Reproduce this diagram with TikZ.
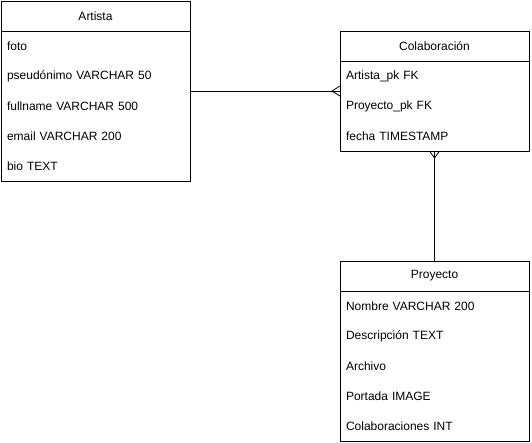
\documentclass[tikz,border=0pt]{standalone}
\usepackage{fontspec}
\setmainfont{Liberation Sans}
\usetikzlibrary{positioning}
\tikzstyle{tabhead}=[rectangle, align=center, draw=black, line width=0.8pt, minimum width=189pt, minimum height=30pt, inner sep=0pt, outer sep=0pt, font=\dtab]
\tikzstyle{tabrow}=[rectangle, align=left, text width=177pt, minimum width=189pt, minimum height=30pt, inner xsep=6pt, inner ysep=0pt, outer sep=0pt, font=\dtab]
\tikzstyle{cornice}=[draw=black, line width=0.8pt]
\tikzstyle{linea}=[draw=black, line width=0.8pt]
\newcommand{\dtab}{\fontsize{12}{14}\selectfont}

\begin{document}
\begin{tikzpicture}
    \useasboundingbox (0,0) rectangle (532pt,-442pt);

    \node [tabhead, anchor = north west] (artista) at (1pt,-1pt) {Artista};
    \node [tabrow, below = 0pt of artista] (foto) {foto};
    \node [tabrow, below = 0pt of foto] (pseudo) {pseudónimo VARCHAR 50};
    \node [tabrow, below = 0pt of pseudo] (fullname) {fullname VARCHAR 500};
    \node [tabrow, below = 0pt of fullname] (email) {email VARCHAR 200};
    \node [tabrow, below = 0pt of email] (bio) {bio TEXT};
    \draw [cornice] (artista.north west) rectangle (bio.south east);

    \node [tabhead, right = 150pt of artista, yshift = -30pt] (colab) {Colaboración};
    \node [tabrow, below = 0pt of colab] (artpk) {Artista\_pk FK};
    \node [tabrow, below = 0pt of artpk] (propk) {Proyecto\_pk FK};
    \node [tabrow, below = 0pt of propk] (fecha) {fecha TIMESTAMP};
    \draw [cornice] (colab.north west) rectangle (fecha.south east);

    \node [tabhead, below = 110pt of fecha] (proyecto) {Proyecto};
    \node [tabrow, below = 0pt of proyecto] (nombre) {Nombre VARCHAR 200};
    \node [tabrow, below = 0pt of nombre] (descr) {Descripción TEXT};
    \node [tabrow, below = 0pt of descr] (archivo) {Archivo};
    \node [tabrow, below = 0pt of archivo] (portada) {Portada IMAGE};
    \node [tabrow, below = 0pt of portada] (colabs) {Colaboraciones INT};
    \draw [cornice] (proyecto.north west) rectangle (colabs.south east);

    % artista -< colaboracion
    \draw [linea] (pseudo.south east) -- (artpk.south west);
    \draw [linea] ([yshift=5pt]artpk.south west) -- ++(-8pt,-5pt) -- ++(8pt,-5pt);

    % colaboracion >- proyecto
    \draw [linea] (fecha.south) -- (proyecto.north);
    \draw [linea] ([xshift=-5pt]fecha.south) -- ++(5pt,-7pt) -- ++(5pt,7pt);
\end{tikzpicture}
\end{document}
